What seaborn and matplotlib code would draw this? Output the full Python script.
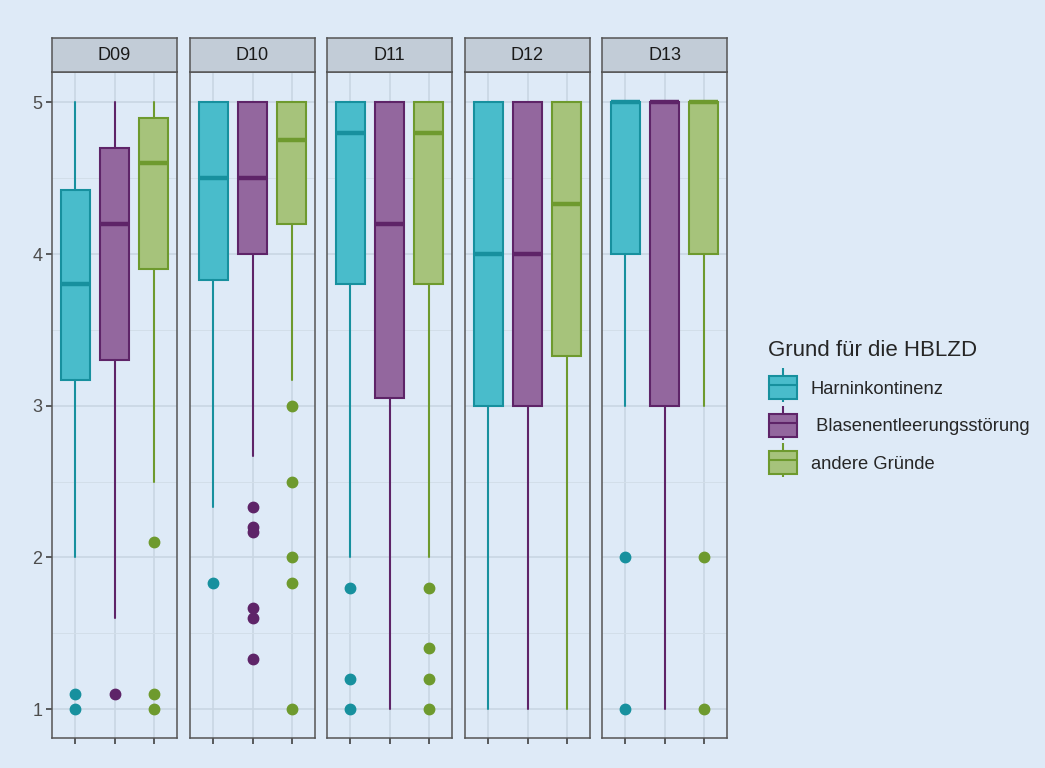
import matplotlib
matplotlib.use("Agg")
import matplotlib.pyplot as plt
import seaborn as sns
from matplotlib.patches import Patch
from matplotlib.lines import Line2D
from matplotlib.legend_handler import HandlerTuple

# facets and groups
panels = ["D09", "D10", "D11", "D12", "D13"]
groups = ["Harninkontinenz", " Blasenentleerungsstörung", "andere Gründe"]

# box statistics per panel, one entry per group: [whislo, q1, median, q3, whishi]
stats_D09 = [[2.0, 3.17, 3.8, 4.42, 5.0], [1.6, 3.3, 4.2, 4.7, 5.0], [2.5, 3.9, 4.6, 4.9, 5.0]]
stats_D10 = [[2.33, 3.83, 4.5, 5.0, 5.0], [2.67, 4.0, 4.5, 5.0, 5.0], [3.17, 4.2, 4.75, 5.0, 5.0]]
stats_D11 = [[2.0, 3.8, 4.8, 5.0, 5.0], [1.0, 3.05, 4.2, 5.0, 5.0], [2.0, 3.8, 4.8, 5.0, 5.0]]
stats_D12 = [[1.0, 3.0, 4.0, 5.0, 5.0], [1.0, 3.0, 4.0, 5.0, 5.0], [1.0, 3.33, 4.33, 5.0, 5.0]]
stats_D13 = [[3.0, 4.0, 5.0, 5.0, 5.0], [1.0, 3.0, 5.0, 5.0, 5.0], [3.0, 4.0, 5.0, 5.0, 5.0]]

# outliers per panel, per group
out_D09 = [[1.1, 1.0], [1.1], [2.1, 1.1, 1.0]]
out_D10 = [[1.83], [2.33, 2.2, 2.17, 1.67, 1.6, 1.33], [3.0, 2.5, 2.0, 1.83, 1.0]]
out_D11 = [[1.8, 1.2, 1.0], [], [1.8, 1.4, 1.2, 1.0]]
out_D12 = [[], [], []]
out_D13 = [[2.0, 1.0], [], [2.0, 1.0]]

all_stats = [stats_D09, stats_D10, stats_D11, stats_D12, stats_D13]
all_out = [out_D09, out_D10, out_D11, out_D12, out_D13]

fills = ["#49bccb", "#93679e", "#a6c37b"]
edges = ["#17909e", "#5e2468", "#6e9a2e"]
bg = "#deeaf7"

sns.set_theme(style="white")
plt.rcParams["font.family"] = ["Liberation Sans", "DejaVu Sans"]

W, H = 1045, 768
fig = plt.figure(figsize=(W / 100, H / 100), dpi=100)
fig.patch.set_facecolor(bg)

lefts = [52, 190, 327, 465, 602]
pw = 125
top, bottom, strip_top = 72, 738, 38

for i, name in enumerate(panels):
    ax = fig.add_axes([lefts[i] / W, 1 - bottom / H, pw / W, (bottom - top) / H])
    ax.set_facecolor(bg)
    for g in range(3):
        lo, q1, med, q3, hi = all_stats[i][g]
        st = dict(whislo=lo, q1=q1, med=med, q3=q3, whishi=hi,
                  fliers=all_out[i][g], label=groups[g])
        ax.bxp([st], positions=[g], widths=0.75, patch_artist=True,
               showcaps=False, manage_ticks=False,
               boxprops=dict(facecolor=fills[g], edgecolor=edges[g], linewidth=1.5),
               medianprops=dict(color=edges[g], linewidth=3.2, solid_capstyle="butt"),
               whiskerprops=dict(color=edges[g], linewidth=1.5),
               flierprops=dict(marker="o", markerfacecolor=edges[g], markeredgecolor=edges[g],
                               markersize=7.5, linestyle="none"),
               zorder=3)
    ax.set_xlim(-0.6, 2.6)
    ax.set_ylim(0.81, 5.2)
    ax.set_xticks([0, 1, 2])
    ax.set_xticklabels([])
    ax.set_yticks([1, 2, 3, 4, 5])
    ax.set_yticks([1.5, 2.5, 3.5, 4.5], minor=True)
    ax.grid(True, which="major", color="#c9d6e3", linewidth=1.2, zorder=0)
    ax.grid(True, which="minor", axis="y", color="#d2dee9", linewidth=0.7, zorder=0)
    ax.set_axisbelow(True)
    ax.tick_params(axis="x", which="major", length=4, width=1.1, color="#333333", bottom=True)
    ax.tick_params(axis="y", which="major", length=4, width=1.1, color="#333333", left=(i == 0),
                   labelleft=(i == 0), labelsize=13, labelcolor="#4d4d4d", pad=3)
    ax.tick_params(axis="y", which="minor", length=0)
    for s in ax.spines.values():
        s.set_color("#555555")
        s.set_linewidth(1.1)

    sax = fig.add_axes([lefts[i] / W, 1 - top / H, pw / W, (top - strip_top) / H])
    sax.set_facecolor("#c2ccd7")
    sax.set_xticks([])
    sax.set_yticks([])
    for s in sax.spines.values():
        s.set_color("#555555")
        s.set_linewidth(1.1)
    sax.text(0.5, 0.48, name, ha="center", va="center", fontsize=13, color="#1a1a1a",
             transform=sax.transAxes)

handles = []
for g in range(3):
    whisk = Line2D([], [], linestyle="none", marker="|", markersize=24,
                   markeredgewidth=1.5, color=edges[g])
    box = Patch(facecolor=fills[g], edgecolor=edges[g], linewidth=1.5)
    med = Line2D([], [], color=edges[g], linewidth=1.5)
    handles.append((whisk, box, med))

leg = fig.legend(handles, groups, loc="upper left", bbox_to_anchor=(752 / W, 1 - 324 / H),
                 frameon=False, fontsize=13.2, title="Grund für die HBLZD", title_fontsize=16,
                 handler_map={tuple: HandlerTuple(ndivide=1, pad=0)},
                 handlelength=1.55, handleheight=1.55, labelspacing=0.8, handletextpad=0.75)
leg._legend_box.align = "left"

fig.savefig("out.png", dpi=100, facecolor=bg)
